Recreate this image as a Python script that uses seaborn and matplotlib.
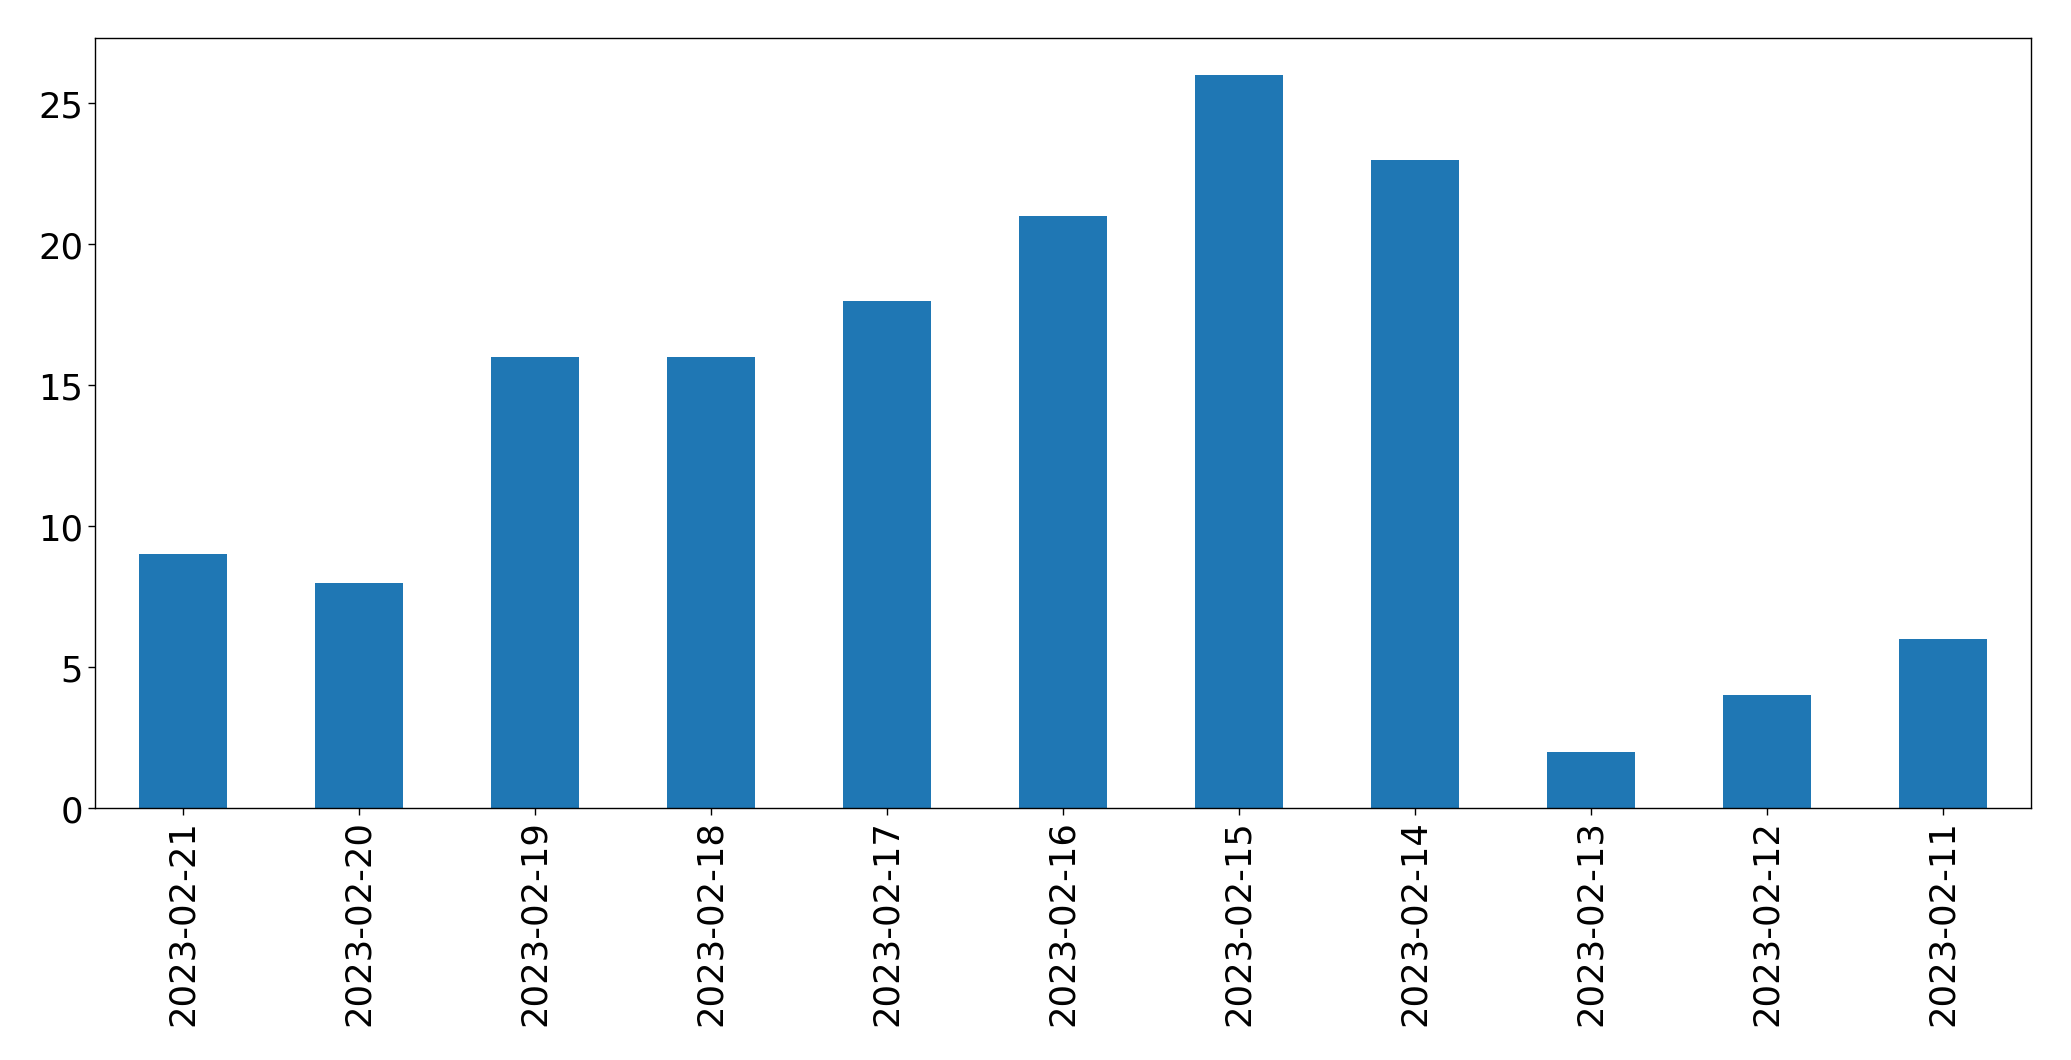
import matplotlib

matplotlib.use("Agg")

import matplotlib.pyplot as plt
import pandas as pd
import seaborn as sns

dates = [
    "2023-02-21", "2023-02-20", "2023-02-19", "2023-02-18", "2023-02-17",
    "2023-02-16", "2023-02-15", "2023-02-14", "2023-02-13", "2023-02-12",
    "2023-02-11",
]
counts = [9, 8, 16, 16, 18, 21, 26, 23, 2, 4, 6]

df = pd.DataFrame({"date": dates, "count": counts})

sns.set_theme(style="ticks")
plt.rcParams["font.family"] = ["DejaVu Sans"]
plt.rcParams["text.color"] = "black"
plt.rcParams["xtick.color"] = "black"
plt.rcParams["ytick.color"] = "black"
plt.rcParams["axes.edgecolor"] = "black"

fig = plt.figure(figsize=(20.71, 10.605), dpi=100)
ax = fig.add_axes([95 / 2071, 1 - 809 / 1061, 1936 / 2071, 770 / 1061])
sns.barplot(data=df, x="date", y="count", color="#1f77b4", saturation=1,
            width=0.5, linewidth=0, ax=ax)
ax.set_xlim(-0.5, len(dates) - 0.5)
ax.set_ylim(0, max(counts) * 1.05)
ax.set_xlabel("")
ax.set_ylabel("")
ax.tick_params(axis="both", labelsize=25.5, length=5, width=1,
               color="black", labelcolor="black")
ax.tick_params(axis="x", labelrotation=90)
for spine in ax.spines.values():
    spine.set_visible(True)
    spine.set_color("black")
    spine.set_linewidth(1)

fig.savefig("out.png", dpi=100)
plt.close(fig)
